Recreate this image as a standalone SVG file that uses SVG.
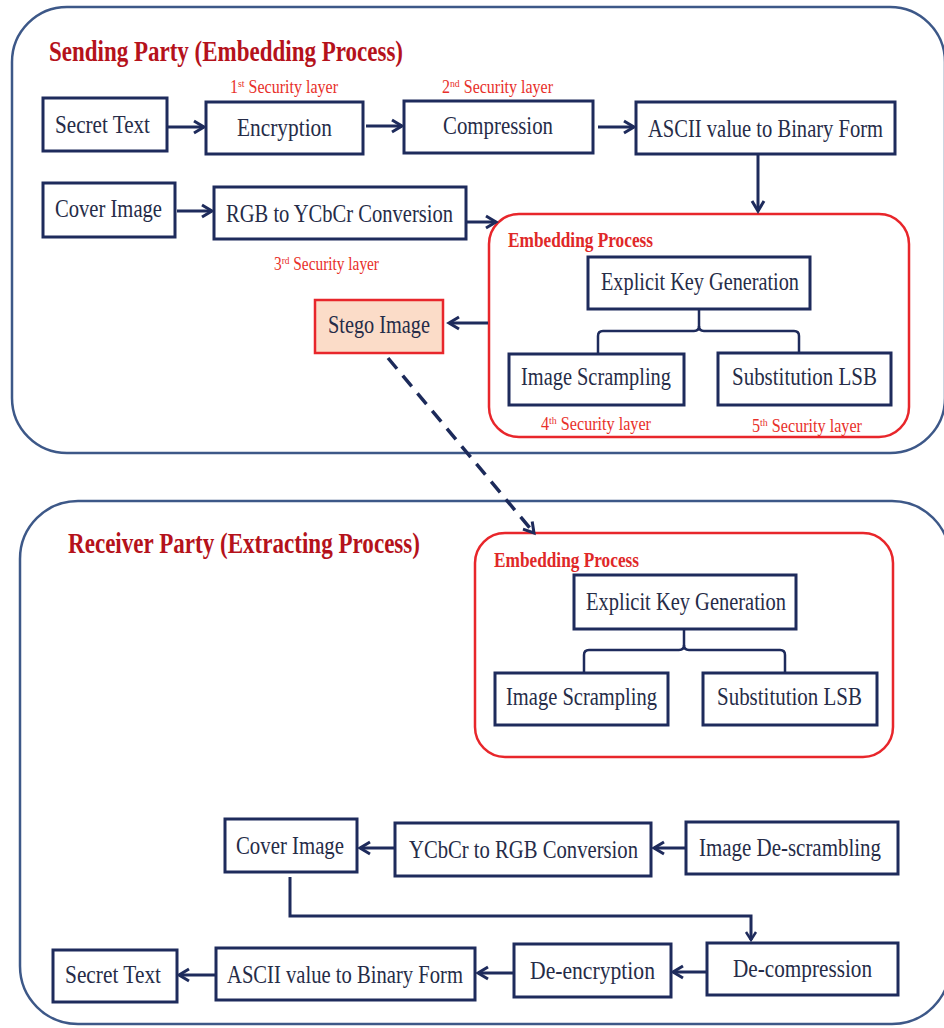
<svg xmlns="http://www.w3.org/2000/svg" width="944" height="1028" viewBox="0 0 944 1028">
  <style>
    .panel { fill: none; stroke: #3d5888; stroke-width: 2.5; }
    .group { fill: #ffffff; stroke: #e8262b; stroke-width: 2.5; }
    .box { fill: #ffffff; stroke: #1e2b5c; stroke-width: 3; }
    .stego { fill: #fbdcc8; stroke: #e8262b; stroke-width: 2.5; }
    .lbl { font-family: "Liberation Serif", "Times New Roman", serif; font-size: 26px; fill: #262c48; }
    .title { font-family: "Liberation Serif", "Times New Roman", serif; font-size: 29px; font-weight: bold; fill: #b5121b; }
    .sub { font-family: "Liberation Serif", "Times New Roman", serif; font-size: 20px; font-weight: bold; fill: #e02828; }
    .layer { font-family: "Liberation Serif", "Times New Roman", serif; font-size: 18px; fill: #e8302a; }
    .sup { font-size: 11px; }
    .link { fill: none; stroke: #1e2b5c; stroke-width: 3; }
    .thin { fill: none; stroke: #1e2b5c; stroke-width: 2.5; }
    .dash { fill: none; stroke: #1c2a5a; stroke-width: 3.5; stroke-dasharray: 14 9; }
  </style>
  <defs>
    <marker id="arr" markerUnits="userSpaceOnUse" markerWidth="16" markerHeight="16" refX="12" refY="8" orient="auto">
      <path d="M2,2 L12,8 L2,14" fill="none" stroke="#1e2b5c" stroke-width="3"/>
    </marker>
    <marker id="arrS" markerUnits="userSpaceOnUse" markerWidth="14" markerHeight="14" refX="10" refY="7" orient="auto">
      <path d="M2,2 L10,7 L2,12" fill="none" stroke="#1e2b5c" stroke-width="2.5"/>
    </marker>
  </defs>

  <rect x="0" y="0" width="944" height="1028" fill="#ffffff"/>

  <!-- sending side -->
  <g id="sending-panel">
    <rect class="panel" x="12" y="7" width="933" height="446" rx="55"/>
    <text class="title" x="49" y="61" textLength="354" lengthAdjust="spacingAndGlyphs">Sending Party (Embedding Process)</text>
  </g>

  <g id="layer1"><text class="layer" x="230" y="93" textLength="108" lengthAdjust="spacingAndGlyphs">1<tspan class="sup" dy="-6">st</tspan><tspan dy="6"> Security layer</tspan></text></g>
  <g id="layer2"><text class="layer" x="442" y="93" textLength="111" lengthAdjust="spacingAndGlyphs">2<tspan class="sup" dy="-6">nd</tspan><tspan dy="6"> Security layer</tspan></text></g>
  <g id="layer3"><text class="layer" x="274" y="270" textLength="105" lengthAdjust="spacingAndGlyphs">3<tspan class="sup" dy="-6">rd</tspan><tspan dy="6"> Security layer</tspan></text></g>

  <g id="s-secret-text">
    <rect class="box" x="43" y="98" width="124" height="53"/>
    <text class="lbl" x="55" y="133" textLength="95" lengthAdjust="spacingAndGlyphs">Secret Text</text>
  </g>
  <g id="s-encryption">
    <rect class="box" x="206" y="102" width="157" height="52"/>
    <text class="lbl" x="237" y="136" textLength="95" lengthAdjust="spacingAndGlyphs">Encryption</text>
  </g>
  <g id="s-compression">
    <rect class="box" x="404" y="101" width="189" height="52"/>
    <text class="lbl" x="443" y="134" textLength="110" lengthAdjust="spacingAndGlyphs">Compression</text>
  </g>
  <g id="s-ascii">
    <rect class="box" x="636" y="102" width="259" height="52"/>
    <text class="lbl" x="648" y="137" textLength="235" lengthAdjust="spacingAndGlyphs">ASCII value to Binary Form</text>
  </g>
  <g id="s-cover-image">
    <rect class="box" x="43" y="183" width="132" height="54"/>
    <text class="lbl" x="55" y="217" textLength="107" lengthAdjust="spacingAndGlyphs">Cover Image</text>
  </g>
  <g id="s-rgb-ycbcr">
    <rect class="box" x="214" y="187" width="252" height="52"/>
    <text class="lbl" x="226" y="222" textLength="227" lengthAdjust="spacingAndGlyphs">RGB to YCbCr Conversion</text>
  </g>

  <g id="s-embedding">
    <rect class="group" x="489" y="214" width="420" height="223" rx="30"/>
    <text class="sub" x="508" y="247" textLength="145" lengthAdjust="spacingAndGlyphs">Embedding Process</text>
  </g>
  <g id="s-key-gen">
    <rect class="box" x="588" y="257" width="222" height="52"/>
    <text class="lbl" x="601" y="290" textLength="198" lengthAdjust="spacingAndGlyphs">Explicit Key Generation</text>
  </g>
  <g id="s-scrambling">
    <rect class="box" x="509" y="354" width="175" height="51"/>
    <text class="lbl" x="521" y="385" textLength="150" lengthAdjust="spacingAndGlyphs">Image Scrampling</text>
  </g>
  <g id="s-lsb">
    <rect class="box" x="718" y="353" width="173" height="52"/>
    <text class="lbl" x="732" y="385" textLength="145" lengthAdjust="spacingAndGlyphs">Substitution LSB</text>
  </g>
  <g id="layer4"><text class="layer" x="541" y="430" textLength="110" lengthAdjust="spacingAndGlyphs">4<tspan class="sup" dy="-6">th</tspan><tspan dy="6"> Security layer</tspan></text></g>
  <g id="layer5"><text class="layer" x="752" y="432" textLength="110" lengthAdjust="spacingAndGlyphs">5<tspan class="sup" dy="-6">th</tspan><tspan dy="6"> Security layer</tspan></text></g>

  <g id="s-stego">
    <rect class="stego" x="315" y="300" width="128" height="53"/>
    <text class="lbl" x="328" y="333" textLength="102" lengthAdjust="spacingAndGlyphs">Stego Image</text>
  </g>

  <!-- receiving side -->
  <g id="receiver-panel">
    <rect class="panel" x="20" y="501" width="930" height="523" rx="58"/>
    <text class="title" x="68" y="553" textLength="352" lengthAdjust="spacingAndGlyphs">Receiver Party (Extracting Process)</text>
  </g>

  <g id="r-embedding">
    <rect class="group" x="475" y="533" width="418" height="224" rx="30"/>
    <text class="sub" x="494" y="567" textLength="145" lengthAdjust="spacingAndGlyphs">Embedding Process</text>
  </g>
  <g id="r-key-gen">
    <rect class="box" x="574" y="575" width="222" height="54"/>
    <text class="lbl" x="586" y="610" textLength="200" lengthAdjust="spacingAndGlyphs">Explicit Key Generation</text>
  </g>
  <g id="r-scrambling">
    <rect class="box" x="495" y="673" width="173" height="52"/>
    <text class="lbl" x="506" y="705" textLength="151" lengthAdjust="spacingAndGlyphs">Image Scrampling</text>
  </g>
  <g id="r-lsb">
    <rect class="box" x="703" y="673" width="174" height="52"/>
    <text class="lbl" x="717" y="705" textLength="145" lengthAdjust="spacingAndGlyphs">Substitution LSB</text>
  </g>

  <g id="r-cover-image">
    <rect class="box" x="225" y="819" width="132" height="53"/>
    <text class="lbl" x="236" y="854" textLength="108" lengthAdjust="spacingAndGlyphs">Cover Image</text>
  </g>
  <g id="r-ycbcr-rgb">
    <rect class="box" x="395" y="823" width="256" height="53"/>
    <text class="lbl" x="409" y="858" textLength="229" lengthAdjust="spacingAndGlyphs">YCbCr to RGB Conversion</text>
  </g>
  <g id="r-descrambling">
    <rect class="box" x="686" y="822" width="212" height="52"/>
    <text class="lbl" x="699" y="856" textLength="182" lengthAdjust="spacingAndGlyphs">Image De-scrambling</text>
  </g>
  <g id="r-secret-text">
    <rect class="box" x="53" y="950" width="124" height="52"/>
    <text class="lbl" x="65" y="983" textLength="96" lengthAdjust="spacingAndGlyphs">Secret Text</text>
  </g>
  <g id="r-ascii">
    <rect class="box" x="216" y="948" width="259" height="52"/>
    <text class="lbl" x="227" y="983" textLength="236" lengthAdjust="spacingAndGlyphs">ASCII value to Binary Form</text>
  </g>
  <g id="r-deencryption">
    <rect class="box" x="514" y="944" width="157" height="53"/>
    <text class="lbl" x="530" y="979" textLength="125" lengthAdjust="spacingAndGlyphs">De-encryption</text>
  </g>
  <g id="r-decompression">
    <rect class="box" x="707" y="943" width="191" height="52"/>
    <text class="lbl" x="733" y="977" textLength="139" lengthAdjust="spacingAndGlyphs">De-compression</text>
  </g>

  <!-- connectors -->
  <g id="connectors">
    <line class="link" x1="168" y1="127" x2="204" y2="127" marker-end="url(#arr)"/>
    <line class="link" x1="366" y1="126" x2="402" y2="126" marker-end="url(#arr)"/>
    <line class="link" x1="598" y1="127" x2="634" y2="127" marker-end="url(#arr)"/>
    <line class="link" x1="758" y1="155" x2="758" y2="211" marker-end="url(#arr)"/>
    <line class="link" x1="177" y1="211" x2="212" y2="211" marker-end="url(#arr)"/>
    <line class="link" x1="466" y1="222" x2="496" y2="222" marker-end="url(#arr)"/>
    <line class="link" x1="488" y1="323" x2="449" y2="323" marker-end="url(#arr)"/>
    <path class="thin" d="M699,309 V326 Q699,331 694,331 H603 Q598,331 598,336 V353"/>
    <path class="thin" d="M699,326 Q699,331 704,331 H794 Q799,331 799,336 V353"/>
    <line class="dash" x1="388" y1="358" x2="534" y2="533" marker-end="url(#arr)"/>
    <path class="thin" d="M684,629 V645 Q684,650 679,650 H589 Q584,650 584,655 V673"/>
    <path class="thin" d="M684,645 Q684,650 689,650 H780 Q785,650 785,655 V673"/>
    <line class="link" x1="686" y1="848" x2="654" y2="848" marker-end="url(#arr)"/>
    <line class="link" x1="395" y1="848" x2="360" y2="848" marker-end="url(#arr)"/>
    <path class="link" d="M290,877 V916 H751 V940" marker-end="url(#arrS)"/>
    <line class="link" x1="707" y1="972" x2="673" y2="972" marker-end="url(#arr)"/>
    <line class="link" x1="514" y1="973" x2="478" y2="973" marker-end="url(#arr)"/>
    <line class="link" x1="216" y1="975" x2="179" y2="975" marker-end="url(#arr)"/>
  </g>
</svg>
